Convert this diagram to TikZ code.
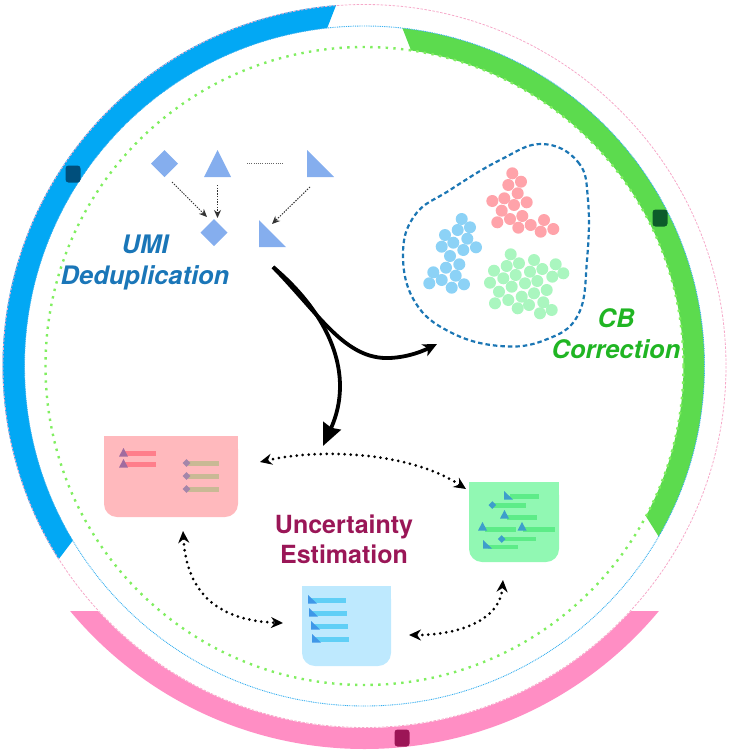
\documentclass[tikz,border=0pt]{standalone}
\usepackage{fontspec}
\newfontfamily\heros{TeX Gyre Heros}
\usetikzlibrary{arrows.meta,calc,shapes.geometric}
\definecolor{bandblue}{HTML}{02A8F4}
\definecolor{bandgreen}{HTML}{5CDB4E}
\definecolor{bandpink}{HTML}{FF8EC4}
\definecolor{ringpink}{HTML}{F6A9C9}
\definecolor{ringblue}{HTML}{35AEEF}
\definecolor{ringgreen}{HTML}{80EE60}
\definecolor{sqblue}{HTML}{004F7C}
\definecolor{sqgreen}{HTML}{0D5C2A}
\definecolor{sqpink}{HTML}{9C1556}
\definecolor{shapeblue}{HTML}{85AEEE}
\definecolor{txtblue}{HTML}{1A76B8}
\definecolor{txtgreen}{HTML}{20B523}
\definecolor{txtpurple}{HTML}{9A1657}
\definecolor{blobblue}{HTML}{1B76B4}
\definecolor{dotred}{HTML}{FFA3AA}
\definecolor{dotblue}{HTML}{8CD2F6}
\definecolor{dotgreen}{HTML}{AAF6BF}
\definecolor{docpink}{HTML}{FFB9BD}
\definecolor{docgreen}{HTML}{91F8B3}
\definecolor{docblue}{HTML}{BEE9FE}
\definecolor{barred}{HTML}{FF7E8B}
\definecolor{bartan}{HTML}{C9B995}
\definecolor{markpurple}{HTML}{A06C9F}
\definecolor{markmauve}{HTML}{A486AA}
\definecolor{barmint}{HTML}{5DEC88}
\definecolor{markteal}{HTML}{3D9ECB}
\definecolor{barsky}{HTML}{60CFF6}
\definecolor{markblue}{HTML}{3F97E8}
\newcommand{\mytri}[3]{\fill[#1] ({#2-4.5},{#3+8.5}) -- ({#2+4.5},{#3+8.5}) -- (#2,#3) -- cycle;}
\newcommand{\myrtri}[3]{\fill[#1] (#2,#3) -- (#2,{#3+8.5}) -- ({#2+9},{#3+8.5}) -- cycle;}
\newcommand{\mydmd}[3]{\fill[#1] ({#2-3.8},#3) -- (#2,{#3-3.8}) -- ({#2+3.8},#3) -- (#2,{#3+3.8}) -- cycle;}
\newcommand{\mybar}[5]{\fill[#1] (#2,#3) rectangle (#4,#5);}
\begin{document}
\begin{tikzpicture}[x=1pt,y=-1pt,
  slot/.style={inner sep=0pt,outer sep=0pt,minimum width=27pt,minimum height=27pt},
  sqmark/.style={inner sep=0pt,minimum width=15pt,minimum height=17pt,rounded corners=3pt},
  docbox/.style={inner sep=0pt,outer sep=0pt,rounded corners=13pt},
  smallarrow/.style={draw=black!80,line width=1pt,dash pattern=on 1.4pt off 1.3pt,-{Stealth[length=8pt,width=7pt]}},
  hairdots/.style={draw=black!60,line width=0.7pt,dash pattern=on 1pt off 1.2pt},
  bigarrow/.style={line width=3.8pt,draw=black},
  dotarrow/.style={draw=black,line width=3pt,dash pattern=on 0pt off 6pt,line cap=round,{Stealth[length=12pt,width=11pt]}-{Stealth[length=12pt,width=11pt]}},
  lbl/.style={inner sep=0pt,align=center,font=\heros\fontsize{25}{30}\selectfont\bfseries}
]
\useasboundingbox (0,0) rectangle (734,755);
% ---- rings ----
\begin{scope}[shift={(364.5,366)}]
  \begin{scope}
    \clip (-400,245) rectangle (400,400);
    \fill[bandpink,even odd rule] (0,0) circle[radius=383] (0,0) circle[radius=362];
  \end{scope}
  \fill[bandblue] (-94.5:362) arc[start angle=-94.5,end angle=-212.3,radius=362]
     -- (-210.9:340) arc[start angle=-210.9,end angle=-96.3,radius=340] -- cycle;
  \fill[bandgreen] (-83.6:340) arc[start angle=-83.6,end angle=30.1,radius=340]
     -- (28.1:319) arc[start angle=28.1,end angle=-81.6,radius=319] -- cycle;
  \draw[ringpink,line width=0.8pt,dash pattern=on 2.5pt off 1.5pt] (0,0) circle[radius=361.5];
  \draw[ringblue,line width=0.9pt,dash pattern=on 0.9pt off 0.9pt] (0,0) circle[radius=340];
  \draw[ringgreen,line width=2.4pt,dash pattern=on 2.4pt off 5.3pt] (0,0) circle[radius=319];
\end{scope}
\node[sqmark,fill=sqblue] (sqb) at (73,174) {};
\node[sqmark,fill=sqgreen] (sqg) at (660,218) {};
\node[sqmark,fill=sqpink] (sqp) at (402,738) {};
% ---- UMI shapes ----
\node[slot] (d1) at (164.5,163.5) {};
\node[slot] (t1) at (217.5,163.5) {};
\node[slot] (rt1) at (320.5,163.5) {};
\node[slot] (d2) at (214,232.5) {};
\node[slot] (rt2) at (272.5,233.5) {};
\fill[shapeblue] (d1.north) -- (d1.east) -- (d1.south) -- (d1.west) -- cycle;
\fill[shapeblue] (d2.north) -- (d2.east) -- (d2.south) -- (d2.west) -- cycle;
\fill[shapeblue] (t1.south west) -- (t1.south east) -- (t1.north) -- cycle;
\fill[shapeblue] (rt1.north west) -- (rt1.south west) -- (rt1.south east) -- cycle;
\fill[shapeblue] (rt2.north west) -- (rt2.south west) -- (rt2.south east) -- cycle;
\draw[smallarrow] ($(d1)+(7.5,18.5)$) -- ($(d2)+(-7,-15.5)$);
\draw[smallarrow] ($(t1)+(0,21.5)$) -- ($(d2)+(3.5,-14.5)$);
\draw[smallarrow] ($(rt1)+(-10.5,23.5)$) -- ($(rt2)+(-0.5,-9.5)$);
\draw[hairdots] ($(t1)+(29.5,0)$) -- ($(rt1)+(-37.5,0)$);
\node[lbl,text=txtblue,font=\heros\fontsize{25.5}{31}\selectfont\bfseries\itshape] (umi) at (145,262) {UMI\\Deduplication};
% ---- CB blob ----
\draw[blobblue,line width=2.2pt,dash pattern=on 4.5pt off 3pt] plot[smooth cycle,tension=0.7] coordinates {(542,144) (578,162) (588,200) (587,260) (578,315) (545,340) (500,346) (450,332) (415,302) (403,255) (415,215) (450,190) (500,160)};
\foreach \x/\y in {512.3/173.3,508.3/185,521/181.7,492.3/201,504.3/198.3,517.7/193.3,501.7/210.7,514/205,526.7/202.3,497.3/222.3,510/219,522.3/216,518.3/227.7,530.7/225,544/220,540.7/231.7,553.3/229}
  \fill[dotred] (\x,\y) circle[radius=6];
\foreach \x/\y in {461.7/219,457.7/230,470/227.3,445/235,467.3/238.7,453.3/242.7,476/247.3,441.7/246.7,463.3/250,450/256,459.3/264.3,446/267.7,433.3/272.3,455.7/275.7,441.7/280,429.3/283.3,451.7/287.7,464/284.3}
  \fill[dotblue] (\x,\y) circle[radius=6];
\foreach \x/\y in {510.7/254.3,534/260,506.7/266,519/263.3,555.7/264.3,494/270.7,530/271.7,542.3/269,563.3/273.3,503.3/278.3,515.7/275,552.3/276.7,490/282.7,525/283.3,537.3/281,499/291.7,511.7/286.7,534/293.3,546.7/290,508.3/300,521.7/296.7,543.3/302.3,495/303.3,529/305,540/313.3,551.7/310,517.7/308.3}
  \fill[dotgreen] (\x,\y) circle[radius=6];
\node[lbl,text=txtgreen,font=\heros\fontsize{25.5}{31}\selectfont\bfseries\itshape] (cb) at (616,333.5) {CB\\Correction};
% ---- thick arrows ----
\coordinate (hub) at (273,267);
\coordinate (cbtip) at (437,344);
\coordinate (uetip) at (323,446);
\draw[bigarrow,-{Stealth[length=22pt,width=19pt,inset=2pt]}] (hub) .. controls (330,315) and (355,375) .. (uetip);
\draw[bigarrow,-{Stealth[length=14pt,width=13pt,inset=4pt]}] (hub) .. controls (320,315) and (345,360) .. (390,358) .. controls (410,357) and (425,350) .. (cbtip);
% ---- documents ----
\node[docbox,fill=docpink,minimum width=134pt,minimum height=81pt] (pinkdoc) at (171,476.5) {};
\fill[docpink] (pinkdoc.north west) rectangle ([yshift=-20pt]pinkdoc.north east);
\node[docbox,fill=docgreen,minimum width=90pt,minimum height=80pt] (greendoc) at (514,522) {};
\fill[docgreen] (greendoc.north west) rectangle ([yshift=-20pt]greendoc.north east);
\node[docbox,fill=docblue,minimum width=89pt,minimum height=80pt] (bluedoc) at (346.5,626) {};
\fill[docblue] (bluedoc.north west) rectangle ([yshift=-20pt]bluedoc.north east);
% pink doc content
\mybar{barred}{125}{451}{156}{456}
\mybar{barred}{125}{462}{156}{467}
\mytri{markpurple}{123.5}{448}
\mytri{markpurple}{123.5}{459}
\mybar{bartan}{188}{460.5}{219}{465.5}
\mybar{bartan}{188}{473.5}{219}{478.5}
\mybar{bartan}{188}{486.5}{219}{491.5}
\mydmd{markmauve}{186.5}{463}
\mydmd{markmauve}{186.5}{476}
\mydmd{markmauve}{186.5}{489}
% green doc content
\mybar{barmint}{510}{494}{539}{499}
\mybar{barmint}{493}{503}{526}{507.5}
\mybar{barmint}{507}{515}{537}{519.5}
\mybar{barmint}{485}{527}{516}{531.5}
\mybar{barmint}{523}{527}{555}{531.5}
\mybar{barmint}{502}{536.5}{536}{541}
\mybar{barmint}{488}{544.5}{518}{549}
\myrtri{markteal}{504}{491}
\mydmd{markteal}{492.3}{505}
\mytri{markteal}{504.5}{510}
\mytri{markteal}{482.5}{522}
\mytri{markteal}{522}{522}
\mydmd{markteal}{501.7}{539}
\myrtri{markteal}{483}{540}
% blue doc content
\mybar{barsky}{308}{598}{346}{603}
\mybar{barsky}{310}{611}{347}{616}
\mybar{barsky}{312}{624}{348}{629}
\mybar{barsky}{313}{637}{349}{642}
\myrtri{markblue}{308}{595}
\myrtri{markblue}{309}{608}
\myrtri{markblue}{311}{621}
\myrtri{markblue}{312}{634}
\node[lbl,text=txtpurple] (ue) at (344,539) {Uncertainty\\Estimation};
% ---- dotted double arrows ----
\draw[dotarrow] ($(pinkdoc.east)+(22,-14.5)$) .. controls (320,448) and (410,452) .. ($(greendoc.north west)+(-3,7)$);
\draw[dotarrow] ($(pinkdoc.south)+(12,14)$) .. controls (186,580) and (205,620) .. ($(bluedoc.west)+(-19,-3)$);
\draw[dotarrow] ($(bluedoc.east)+(18,9)$) .. controls (460,635) and (500,620) .. ($(greendoc.south)+(-11,18)$);
\end{tikzpicture}
\end{document}
